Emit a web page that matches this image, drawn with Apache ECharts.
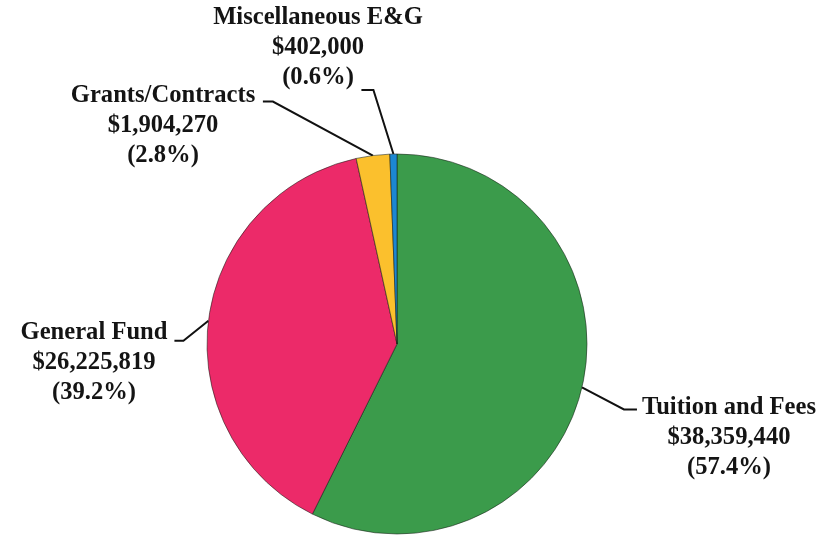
<!DOCTYPE html>
<html>
<head>
<meta charset="utf-8">
<script src="https://cdn.jsdelivr.net/npm/echarts@6/dist/echarts.min.js"></script>
<style>
  html, body { margin: 0; padding: 0; background: #fff; }
  #chart { width: 838px; height: 536px; }
</style>
</head>
<body>
<div id="chart"></div>
<script>
// 收入来源
const categories = ["Tuition and Fees", "General Fund", "Grants/Contracts", "Miscellaneous E&G"];
const amounts = [38359440, 26225819, 1904270, 402000];
const pctLabels = ["57.4%", "39.2%", "2.8%", "0.6%"];
const colors = ["#3b9b4b", "#ec2a69", "#fbc02d", "#1c87d2"];

// label placement (layout only): block centre x, top y, leader bend offset, horizontal tail
const labelPlace = [
  { x: 729, y: 393, bend: [42, 22], tail: 13 },
  { x: 94, y: 318, bend: [-25, 20], tail: -9 },
  { x: 163, y: 81, bend: [-100, -54], tail: -10 },
  { x: 318, y: 3, bend: [-20, -64], tail: -12 }
];

function money(v) {
  return "$" + v.toLocaleString("en-US");
}

let myChart = echarts.init(document.getElementById("chart"));

myChart.setOption({
  animation: false,
  series: [
    {
      type: "pie",
      center: [397, 344],
      radius: 190,
      startAngle: 90,
      clockwise: true,
      avoidLabelOverlap: false,
      emphasis: { disabled: true },
      itemStyle: {
        borderColor: "rgba(20,30,20,0.55)",
        borderWidth: 1
      },
      label: {
        show: true,
        position: "outside",
        fontFamily: "Liberation Serif",
        fontWeight: "bold",
        fontSize: 24.6,
        lineHeight: 30,
        color: "#141414",
        formatter: function(p) {
          return categories[p.dataIndex] + "\n" + money(amounts[p.dataIndex]) + "\n(" + pctLabels[p.dataIndex] + ")";
        }
      },
      labelLine: {
        show: true,
        lineStyle: { color: "#111", width: 2 }
      },
      labelLayout: function(params) {
        const lp = labelPlace[params.dataIndex];
        const start = params.labelLinePoints[0];
        const bend = [start[0] + lp.bend[0], start[1] + lp.bend[1]];
        const end = [bend[0] + lp.tail, bend[1]];
        return {
          x: lp.x,
          y: lp.y,
          align: "center",
          verticalAlign: "top",
          labelLinePoints: [start, bend, end]
        };
      },
      data: categories.map(function(name, i) {
        return { name: name, value: amounts[i], itemStyle: { color: colors[i] } };
      })
    }
  ]
});
</script>
</body>
</html>
